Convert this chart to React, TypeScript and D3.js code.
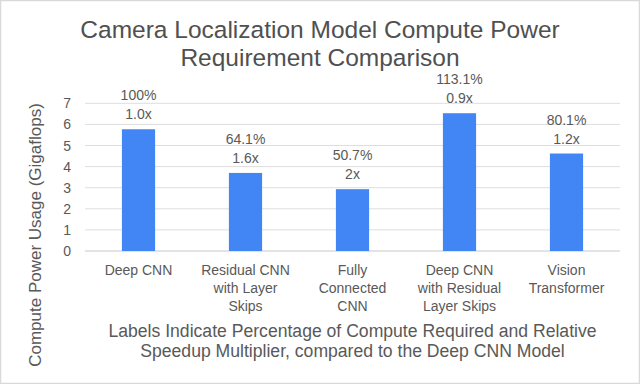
import React from "react";
import * as d3 from "d3";

const categories: string[][] = [
  ["Deep CNN"],
  ["Residual CNN", "with Layer", "Skips"],
  ["Fully", "Connected", "CNN"],
  ["Deep CNN", "with Residual", "Layer Skips"],
  ["Vision", "Transformer"],
];
const values = [5.77, 3.7, 2.93, 6.53, 4.62];
const pctLabels = ["100%", "64.1%", "50.7%", "113.1%", "80.1%"];
const speedLabels = ["1.0x", "1.6x", "2x", "0.9x", "1.2x"];
const yTicks = [0, 1, 2, 3, 4, 5, 6, 7];
const titleLines = ["Camera Localization Model Compute Power", "Requirement Comparison"];
const xTitleLines = [
  "Labels Indicate Percentage of Compute Required and Relative",
  "Speedup Multiplier, compared to the Deep CNN Model",
];
const yTitle = "Compute Power Usage (Gigaflops)";

const W = 640;
const H = 384;
const left = 85;
const right = 620;
const top = 103.3;
const bottom = 251;
const font = "'Liberation Sans', Arial, sans-serif";
const textColor = "#595959";

export default function App() {
  const x = d3
    .scaleBand<number>()
    .domain(values.map((_, i) => i))
    .range([left, right])
    .paddingInner(0.69)
    .paddingOuter(0.345);
  const y = d3.scaleLinear().domain([0, 7]).range([bottom, top]);

  return (
    <svg
      width={W}
      height={H}
      style={{ position: "absolute", left: 0, top: 0, background: "#fff" }}
      fontFamily={font}
    >
      <rect x={0.5} y={0.5} width={W - 1} height={H - 1} fill="#fff" stroke="#d9d9d9" strokeWidth={1.5} />
      {titleLines.map((t, i) => (
        <text key={i} x={320} y={37.5 + i * 28} textAnchor="middle" fontSize={24.5} fill="#505050">
          {t}
        </text>
      ))}
      {yTicks.map((t) => (
        <g key={t}>
          <line x1={left} x2={right} y1={y(t)} y2={y(t)} stroke={t === 0 ? "#c8c8c8" : "#dedede"} strokeWidth={1} />
          <text x={71} y={y(t) + 5} textAnchor="end" fontSize={14} fill={textColor}>
            {t}
          </text>
        </g>
      ))}
      {values.map((v, i) => {
        const bx = x(i)!;
        const cx = bx + x.bandwidth() / 2;
        return (
          <g key={i}>
            <rect x={bx} y={y(v)} width={x.bandwidth()} height={y(0) - y(v)} fill="#4285f4" />
            <text x={cx} y={y(v) - 29} textAnchor="middle" fontSize={14} fill={textColor}>
              {pctLabels[i]}
            </text>
            <text x={cx} y={y(v) - 10} textAnchor="middle" fontSize={14} fill={textColor}>
              {speedLabels[i]}
            </text>
            {categories[i].map((line, j) => (
              <text key={j} x={cx} y={275 + j * 18} textAnchor="middle" fontSize={14} fill={textColor}>
                {line}
              </text>
            ))}
          </g>
        );
      })}
      {xTitleLines.map((t, i) => (
        <text key={i} x={(left + right) / 2} y={337 + i * 19.5} textAnchor="middle" fontSize={17.6} fill={textColor}>
          {t}
        </text>
      ))}
      <text
        transform={`translate(41,235) rotate(-90)`}
        textAnchor="middle"
        fontSize={17}
        fill={textColor}
      >
        {yTitle}
      </text>
    </svg>
  );
}
